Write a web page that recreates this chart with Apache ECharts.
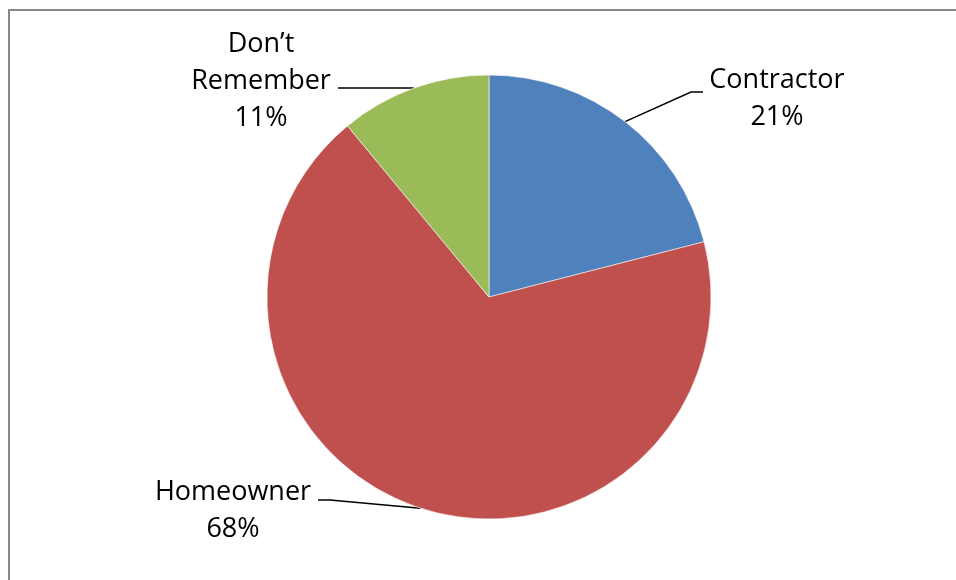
<!DOCTYPE html>
<html>
<head>
<meta charset="utf-8">
<script src="https://cdn.jsdelivr.net/npm/echarts@6/dist/echarts.min.js"></script>
<style>
  html, body { margin: 0; padding: 0; background: #fff; }
  #chart { width: 956px; height: 580px; }
</style>
</head>
<body>
<div id="chart"></div>
<script>
// Who did the work
const categories = ['Contractor', 'Homeowner', 'Don’t Remember'];
const shares = [21, 68, 11];
const sliceColors = ['#4F81BD', '#C0504D', '#9BBB59'];

// Where each label sits (text centre) and where its leader line meets it
const labelSpots = [
  { x: 777, y: 99, bend: [691, 92], end: [703, 92] },
  { x: 233, y: 511, bend: [330, 500], end: [318, 500] },
  { x: 261, y: 81, bend: [350, 88], end: [338, 88] }
];

const chart = echarts.init(document.getElementById('chart'));

chart.setOption({
  animation: false,
  backgroundColor: '#fff',
  graphic: [{
    type: 'rect',
    shape: { x: 9, y: 10, width: 1200, height: 1200 },
    style: { fill: 'none', stroke: '#878787', lineWidth: 2 },
    silent: true
  }],
  series: [{
    type: 'pie',
    center: [489, 297],
    radius: 222,
    startAngle: 90,
    clockwise: true,
    data: categories.map((name, i) => ({
      name: name,
      value: shares[i],
      itemStyle: { color: sliceColors[i] }
    })),
    itemStyle: { borderColor: 'rgba(255,255,255,0.7)', borderWidth: 0.8 },
    label: {
      show: true,
      position: 'outside',
      formatter: p => p.name.replace(' ', '\n') + '\n' + p.percent.toFixed(0) + '%',
      fontFamily: '"Open Sans", sans-serif',
      fontSize: 27,
      lineHeight: 37,
      color: '#000',
      align: 'center'
    },
    labelLine: {
      show: true,
      length: 20,
      length2: 20,
      lineStyle: { color: '#000', width: 1.5 }
    },
    labelLayout: function (params) {
      const spot = labelSpots[params.dataIndex];
      const start = params.labelLinePoints ? params.labelLinePoints[0] : spot.bend;
      return {
        x: spot.x,
        y: spot.y,
        align: 'center',
        verticalAlign: 'middle',
        labelLinePoints: [start, spot.bend, spot.end]
      };
    },
    emphasis: { disabled: true }
  }]
});
</script>
</body>
</html>
